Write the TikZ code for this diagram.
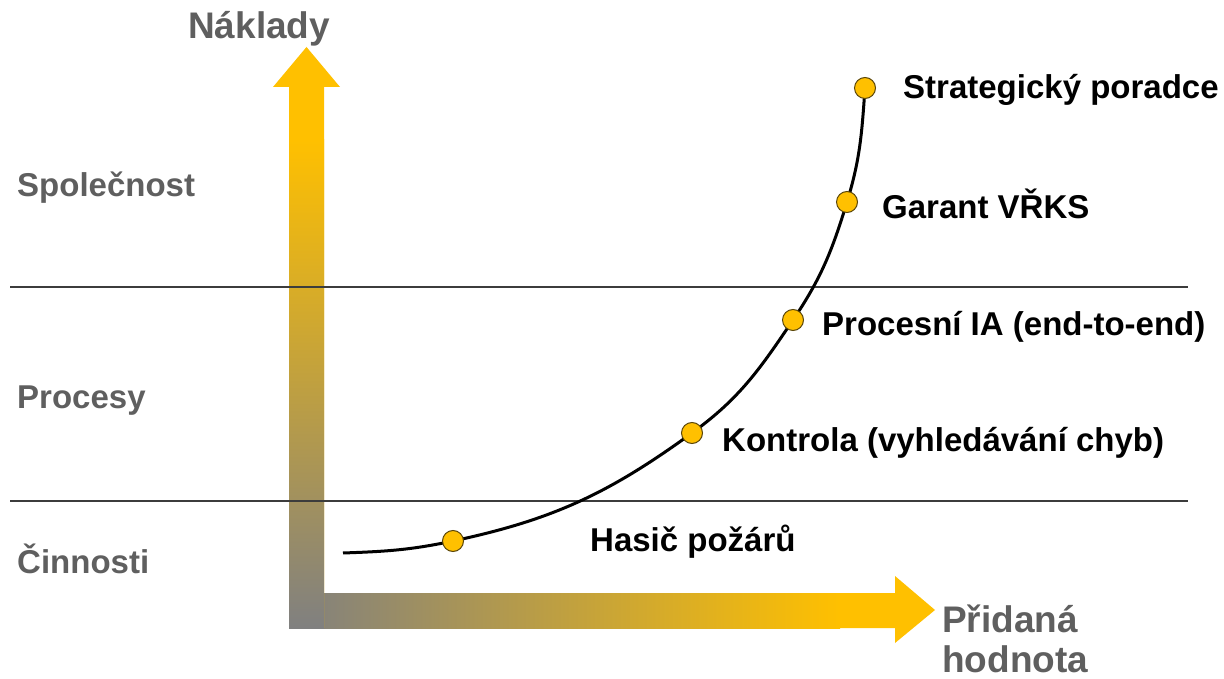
\documentclass[tikz,border=0pt]{standalone}
\usepackage{fontspec}
\setmainfont{Liberation Sans}
\definecolor{axgray}{RGB}{128,128,128}
\definecolor{axgold}{RGB}{255,192,0}
\definecolor{lblgray}{RGB}{95,95,95}
\definecolor{dotedge}{RGB}{90,70,10}
\definecolor{rulecol}{RGB}{60,60,60}
\begin{document}
\begin{tikzpicture}[x=1pt,y=1pt,
  level/.style={font=\fontsize{33}{38}\bfseries\selectfont, text=lblgray, anchor=base west, inner sep=0pt},
  axislabel/.style={font=\fontsize{37}{40}\bfseries\selectfont, text=lblgray, anchor=base west, inner sep=0pt},
  role/.style={font=\fontsize{33}{38}\bfseries\selectfont, text=black, anchor=base west, inner sep=0pt},
  dot/.style={circle, minimum size=21pt, inner sep=0pt, fill=axgold, draw=dotedge, line width=1pt},
  rule/.style={draw=rulecol, line width=1.3pt},
  curve/.style={draw=black, line width=3pt}]
\useasboundingbox (0,0) rectangle (1224,678);

% axes: solid gold arrows with a grey-to-gold gradient over the shafts
\fill[axgold] (289,50) -- (895,50) -- (895,35) -- (935,68) -- (895,102) -- (895,85) -- (289,85) -- cycle;
\shade[left color=axgray, right color=axgold] (289,50) rectangle (840,85);
\fill[axgold] (289,50) -- (324,50) -- (324,591) -- (340,591) -- (306.5,631) -- (273,591) -- (289,591) -- cycle;
\shade[bottom color=axgray, top color=axgold] (289,50) rectangle (324,538);

% level separators
\coordinate (r1a) at (10,391); \coordinate (r1b) at (1188,391);
\coordinate (r2a) at (10,177); \coordinate (r2b) at (1188,177);
\draw[rule] (r1a) -- (r1b);
\draw[rule] (r2a) -- (r2b);

% axis titles
\node[axislabel] (ylab) at (188,639) {Náklady};
\node[axislabel] (xlab1) at (942,46) {Přidaná};
\node[axislabel] (xlab2) at (942,6) {hodnota};

% level names
\node[level] (lv1) at (17,481) {Společnost};
\node[level] (lv2) at (17,269) {Procesy};
\node[level] (lv3) at (17,105) {Činnosti};

% growth curve
\coordinate (c0) at (343,125);
\coordinate (p1) at (453,137);
\coordinate (p2) at (692,245);
\coordinate (p3) at (793,358);
\coordinate (p4) at (847,476);
\coordinate (p5) at (865,590);
\draw[curve] (c0) to[out=2,in=192] (p1) to[out=12,in=216] (p2)
  to[out=36,in=236] (p3) to[out=56,in=253] (p4) to[out=73,in=266] (p5);

\node[dot] (d1) at (p1) {};
\node[dot] (d2) at (p2) {};
\node[dot] (d3) at (p3) {};
\node[dot] (d4) at (p4) {};
\node[dot] (d5) at (p5) {};

% roles along the curve
\node[role] (t5) at (903,579) {Strategický poradce};
\node[role] (t4) at (882,459) {Garant VŘKS};
\node[role] (t3) at (822,342) {Procesní IA (end-to-end)};
\node[role] (t2) at (722,226) {Kontrola (vyhledávání chyb)};
\node[role] (t1) at (590,127) {Hasič požárů};
\end{tikzpicture}
\end{document}
